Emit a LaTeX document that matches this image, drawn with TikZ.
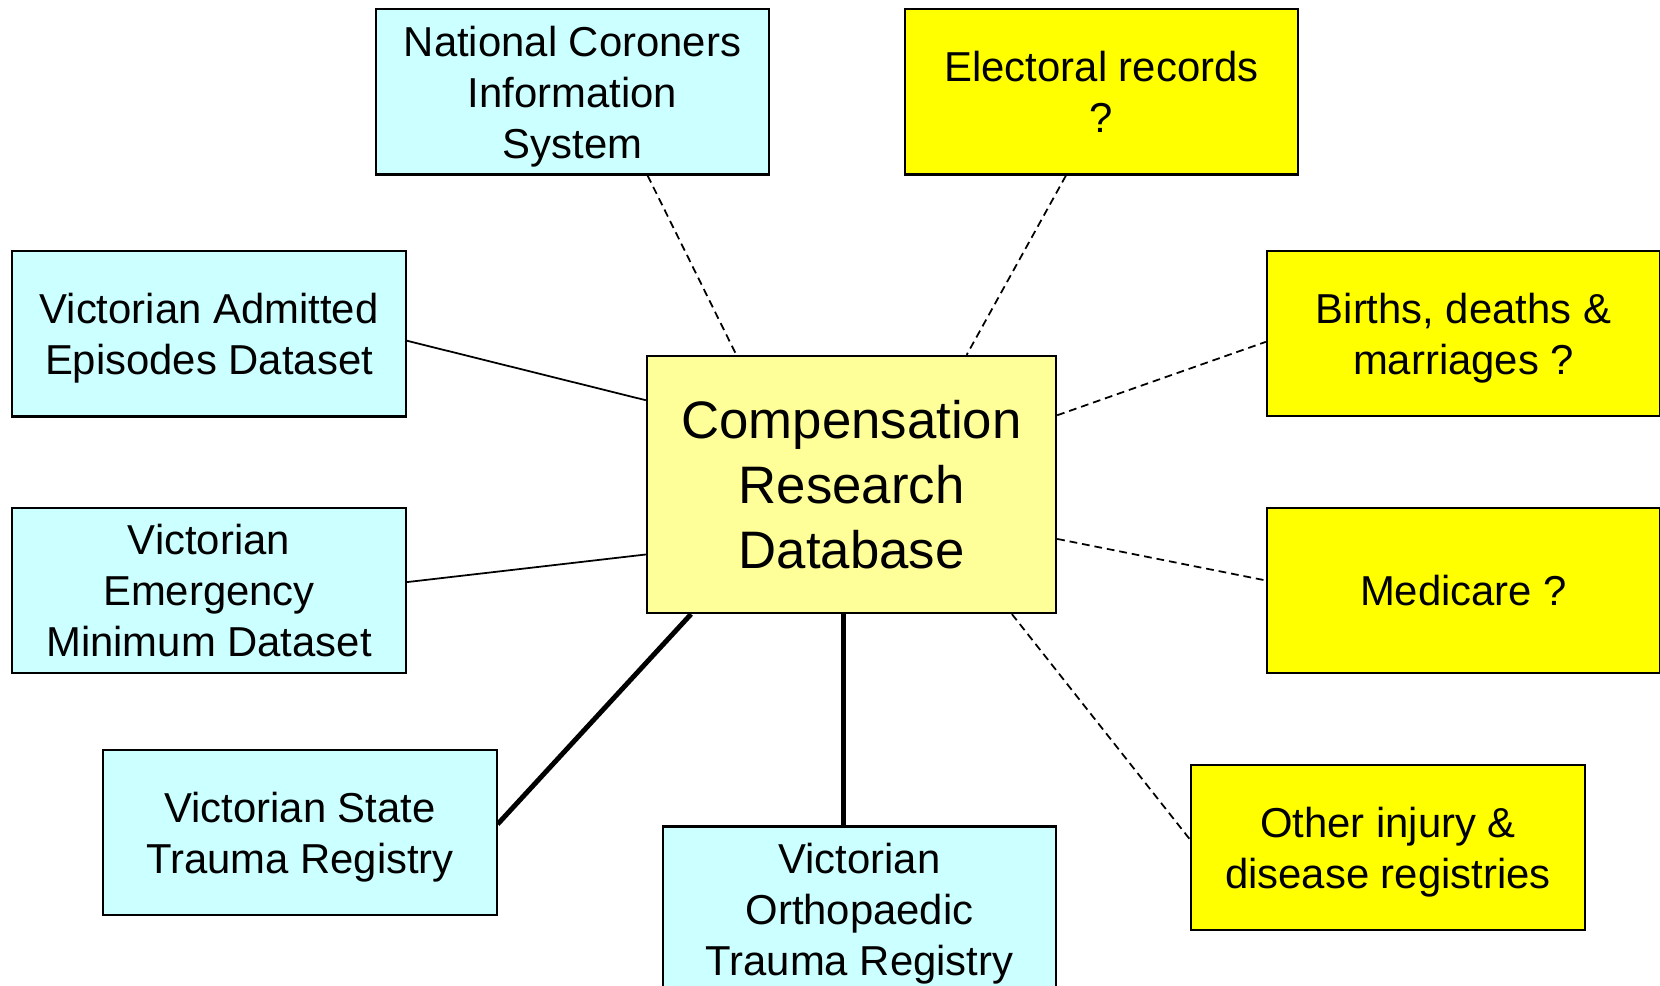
\documentclass[tikz,border=0pt]{standalone}
\usepackage{fontspec}
\setmainfont{Liberation Sans}
\usetikzlibrary{calc}
\definecolor{srccyan}{HTML}{CCFFFF}
\definecolor{crdyellow}{HTML}{FFFF99}
\definecolor{askyellow}{HTML}{FFFF00}

\begin{document}
\begin{tikzpicture}[x=0.01cm,y=-0.01cm,
    box/.style={draw,line width=0.6pt,minimum width=3.93cm,minimum height=1.65cm,
      align=center,inner sep=0pt,text depth=0pt,font=\fontsize{11.9}{14.5}\selectfont},
    known/.style={box,fill=srccyan},
    maybe/.style={box,fill=askyellow},
    hub/.style={box,fill=crdyellow,minimum width=4.09cm,minimum height=2.57cm,
      font=\fontsize{15}{18.4}\selectfont},
    linked/.style={line width=0.5pt},
    strong/.style={line width=1.4pt},
    possible/.style={line width=0.5pt,dash pattern=on 2.2pt off 1.4pt}]
  \clip (0,0) rectangle (1660,986);
  % sources
  \node[hub] (crd) at (851.5,484.5) {Compensation\\Research\\Database};
  \node[known] (ncis) at (572.5,92) {National Coroners\\Information\\System};
  \node[known] (vaed) at (209,334) {Victorian Admitted\\Episodes Dataset};
  \node[known] (vemd) at (209,590.5) {Victorian\\Emergency\\Minimum Dataset};
  \node[known] (vstr) at (300,832.5) {Victorian State\\Trauma Registry};
  \node[known] (votr) at (859.5,909) {Victorian\\Orthopaedic\\Trauma Registry};
  \node[maybe] (elec) at (1101.5,92) {Electoral records\\?};
  \node[maybe] (bdm) at (1463.5,333.5) {Births, deaths \&\\marriages ?};
  \node[maybe] (medi) at (1463.5,590.5) {Medicare ?};
  \node[maybe] (other) at (1388,847.5) {Other injury \&\\disease registries};

  % links
  \draw[possible] ($(ncis.south west)!0.69!(ncis.south east)$) -- ($(crd.north west)!0.22!(crd.north east)$);
  \draw[possible] ($(elec.south west)!0.41!(elec.south east)$) -- ($(crd.north west)!0.78!(crd.north east)$);
  \draw[linked] ($(vaed.north east)!0.54!(vaed.south east)$) -- ($(crd.north west)!0.175!(crd.south west)$);
  \draw[linked] ($(vemd.north east)!0.45!(vemd.south east)$) -- ($(crd.north west)!0.77!(crd.south west)$);
  \draw[possible] ($(crd.north east)!0.233!(crd.south east)$) -- ($(bdm.north west)!0.55!(bdm.south west)$);
  \draw[possible] ($(crd.north east)!0.71!(crd.south east)$) -- ($(medi.north west)!0.44!(medi.south west)$);
  \draw[strong] ($(vstr.north east)!0.45!(vstr.south east)$) -- ($(crd.south west)!0.11!(crd.south east)$);
  \draw[strong] ($(crd.south west)!0.48!(crd.south east)$) -- (votr.north -| {$(crd.south west)!0.48!(crd.south east)$});
  \draw[possible] ($(crd.south west)!0.89!(crd.south east)$) -- ($(other.north west)!0.455!(other.south west)$);
\end{tikzpicture}
\end{document}
